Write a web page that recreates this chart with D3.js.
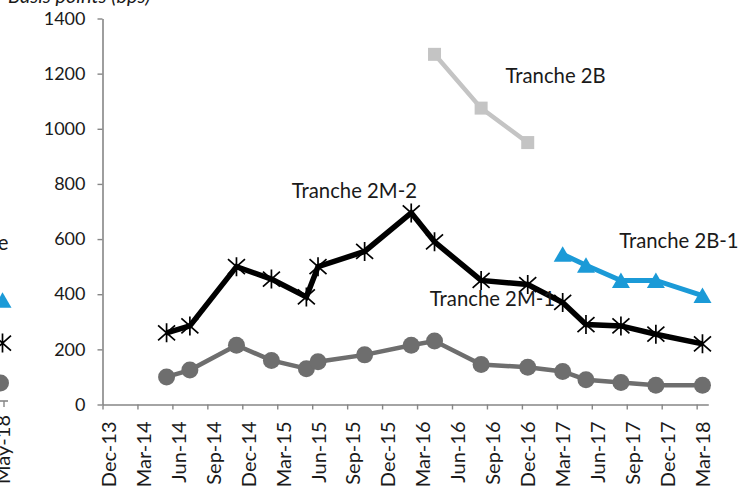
<!DOCTYPE html>
<html>
<head>
<meta charset="utf-8">
<script src="https://cdn.jsdelivr.net/npm/d3@7"></script>
<style>
  html, body { margin: 0; padding: 0; background: #fff; }
  svg { display: block; font-family: Lato, "Open Sans", sans-serif; }
</style>
</head>
<body>
<svg id="chart" width="738" height="489"></svg>
<script>
// Issue months of each deal (YYYY-MM) and spreads in basis points
const issueMonths = ["2014-05","2014-07","2014-11","2015-02","2015-05","2015-06","2015-10","2016-02",
                     "2016-04","2016-08","2016-12","2017-03","2017-05","2017-08","2017-11","2018-03"];
const tranche2M1 = [100,125,215,160,130,155,180,215,230,145,135,120,90,80,70,70];
const tranche2M2 = [260,285,500,455,390,500,555,695,590,450,435,370,290,285,255,220];

const tranche2BMonths = ["2016-04","2016-08","2016-12"];
const tranche2B = [1270,1075,950];

const tranche2B1Months = ["2017-03","2017-05","2017-08","2017-11","2018-03"];
const tranche2B1 = [545,505,450,450,395];

const yTicks = [0,200,400,600,800,1000,1200,1400];
const xTickLabels = ["Dec-13","Mar-14","Jun-14","Sep-14","Dec-14","Mar-15","Jun-15","Sep-15","Dec-15",
                     "Mar-16","Jun-16","Sep-16","Dec-16","Mar-17","Jun-17","Sep-17","Dec-17","Mar-18"];

// Neighbouring panel (only its right edge shows): last observations, May-18
const neighbourLabel = "May-18";
const neighbourLast = { tranche2B1: 365, tranche2M2: 210, tranche2M1: 65 };

// ---------------------------------------------------------------------------
const svg = d3.select("#chart");
const C = {
  text: "#1a1a1a",
  axis: "#868686",
  m1: "#6e6e6e",
  m2: "#000000",
  b: "#c4c4c4",
  b1: "#1b9ad7"
};

// month index counted from Dec-2013 (one slot per month)
const monthIndex = s => {
  const [yy, mm] = s.split("-").map(Number);
  return (yy - 2013) * 12 + (mm - 1) - 11;
};

const x = d3.scaleLinear().domain([0, 52]).range([102.5, 708.3]);
const y = d3.scaleLinear().domain([0, 1400]).range([404.5, 18.5]);
const slot = x(1) - x(0);
const xc = m => x(monthIndex(m) + 0.5);   // centre of a month slot

// Axis title (clipped by the top edge)
svg.append("text")
  .attr("x", 8).attr("y", 3)
  .attr("font-size", 20).attr("font-style", "italic")
  .attr("fill", C.text)
  .text("Basis points (bps)");

// Y axis
const yAxis = svg.append("g")
  .attr("transform", `translate(${x(0)},0)`)
  .call(d3.axisLeft(y).tickValues(yTicks).tickFormat(d3.format("d"))
        .tickSize(5).tickSizeOuter(0).tickPadding(12));
yAxis.select(".domain").attr("stroke", C.axis).attr("stroke-width", 1.6);
yAxis.selectAll(".tick line").attr("stroke", C.axis).attr("stroke-width", 1.4);
yAxis.selectAll(".tick text").attr("font-size", 18).attr("fill", C.text)
  .attr("font-family", "Lato, sans-serif");

// X axis: ticks on quarter boundaries, labels centred in their month slot
const xTickIdx = xTickLabels.map((_, i) => i * 3);
const xAxis = svg.append("g")
  .attr("transform", `translate(0,${y(0)})`)
  .call(d3.axisBottom(x).tickValues(xTickIdx).tickSize(5).tickSizeOuter(0)
        .tickFormat((d, i) => xTickLabels[i]));
xAxis.select(".domain").attr("stroke", C.axis).attr("stroke-width", 1.6);
xAxis.selectAll(".tick line").attr("stroke", C.axis).attr("stroke-width", 1.4);
xAxis.selectAll(".tick text")
  .attr("font-size", 20).attr("fill", C.text).attr("font-family", "Lato, sans-serif")
  .attr("x", 0).attr("y", 0).attr("dy", "0.35em")
  .attr("text-anchor", "end")
  .attr("transform", `translate(${slot / 2},${17}) rotate(-90)`);

// Series helpers
const line = d3.line().x(d => d.x).y(d => d.y);
const pts = (months, vals) => months.map((m, i) => ({ x: xc(m), y: y(vals[i]) }));

function drawSeries(points, color, width) {
  svg.append("path").datum(points)
    .attr("d", line).attr("fill", "none")
    .attr("stroke", color).attr("stroke-width", width)
    .attr("stroke-linejoin", "miter");
}

const starPath = "M0,-9.5V9.5M-8.5,-7.5L8.5,7.5M-8.5,7.5L8.5,-7.5";
const triPath = "M0,-8L9,7.5H-9Z";

// Tranche 2B (light grey squares)
const pB = pts(tranche2BMonths, tranche2B);
drawSeries(pB, C.b, 4.5);
svg.append("g").selectAll("rect").data(pB).join("rect")
  .attr("x", d => d.x - 6.5).attr("y", d => d.y - 6.5)
  .attr("width", 13).attr("height", 13).attr("fill", C.b);

// Tranche 2M-1 (dark grey circles)
const pM1 = pts(issueMonths, tranche2M1);
drawSeries(pM1, C.m1, 4.5);
svg.append("g").selectAll("circle").data(pM1).join("circle")
  .attr("cx", d => d.x).attr("cy", d => d.y).attr("r", 8.5).attr("fill", C.m1);

// Tranche 2B-1 (blue triangles)
const pB1 = pts(tranche2B1Months, tranche2B1);
drawSeries(pB1, C.b1, 5);
svg.append("g").selectAll("path").data(pB1).join("path")
  .attr("d", triPath).attr("transform", d => `translate(${d.x},${d.y})`)
  .attr("fill", C.b1);

// Tranche 2M-2 (black asterisks)
const pM2 = pts(issueMonths, tranche2M2);
drawSeries(pM2, C.m2, 5.5);
svg.append("g").selectAll("path").data(pM2).join("path")
  .attr("d", starPath).attr("transform", d => `translate(${d.x},${d.y})`)
  .attr("fill", "none").attr("stroke", C.m2).attr("stroke-width", 1.7);

// Series labels, anchored in data space
const labels = [
  { t: "Tranche 2B",   m: 34.6, v: 1166 },
  { t: "Tranche 2M-2", m: 16.25, v: 748 },
  { t: "Tranche 2B-1", m: 44.35, v: 567 },
  { t: "Tranche 2M-1", m: 28.1, v: 357 }
];
svg.append("g").selectAll("text").data(labels).join("text")
  .attr("x", d => x(d.m)).attr("y", d => y(d.v))
  .attr("font-size", 20.3).attr("fill", C.text)
  .text(d => d.t);

// Right edge of the neighbouring panel, clipped by the left border
const yN = d3.scaleLinear().domain([0, 1400]).range([401, 15]);
const xN = 2.5;
const nb = svg.append("g");
nb.append("line").attr("x1", -20).attr("x2", 8).attr("y1", yN(0)).attr("y2", yN(0))
  .attr("stroke", C.axis).attr("stroke-width", 1.6);
nb.append("line").attr("x1", 4).attr("x2", 4).attr("y1", yN(0)).attr("y2", yN(0) + 6)
  .attr("stroke", C.axis).attr("stroke-width", 1.4);
nb.append("text")
  .attr("transform", `translate(${xN},${yN(0) + 14}) rotate(-90)`)
  .attr("dy", "0.35em").attr("text-anchor", "end")
  .attr("font-size", 20).attr("fill", C.text).text(neighbourLabel);
nb.append("text").attr("x", 8.5).attr("y", 250).attr("text-anchor", "end")
  .attr("font-size", 20.3).attr("fill", C.text).text("Tranche");
nb.append("path").attr("d", triPath)
  .attr("transform", `translate(${xN},${yN(neighbourLast.tranche2B1)})`).attr("fill", C.b1);
nb.append("path").attr("d", starPath)
  .attr("transform", `translate(${xN},${yN(neighbourLast.tranche2M2)})`)
  .attr("fill", "none").attr("stroke", C.m2).attr("stroke-width", 1.7);
nb.append("circle").attr("cx", xN - 2).attr("cy", yN(neighbourLast.tranche2M1))
  .attr("r", 8.5).attr("fill", C.m1);
</script>
</body>
</html>
